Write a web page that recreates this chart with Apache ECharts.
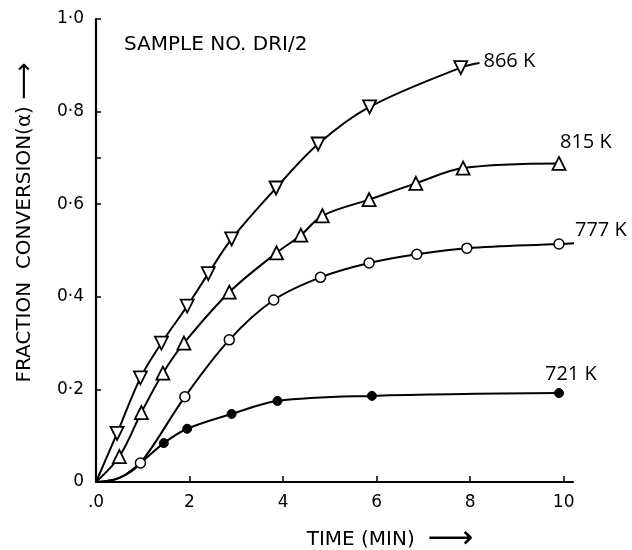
<!DOCTYPE html>
<html>
<head>
<meta charset="utf-8">
<script src="https://cdn.jsdelivr.net/npm/echarts@6/dist/echarts.min.js"></script>
<style>html,body{margin:0;padding:0;background:#fff}#c{width:632px;height:550px}</style>
</head>
<body>
<div id="c"></div>
<script>
// Data (time in min, fraction conversion alpha)
var t866 = [0, 0.45, 0.95, 1.4, 1.95, 2.4, 2.9, 3.85, 4.75, 5.85, 7.8, 8.2];
var a866 = [0, 0.105, 0.225, 0.30, 0.38, 0.45, 0.525, 0.635, 0.73, 0.81, 0.895, 0.905];
var t815 = [0, 0.5, 0.97, 1.43, 1.88, 2.85, 3.86, 4.38, 4.84, 5.84, 6.84, 7.85, 9.9];
var a815 = [0, 0.055, 0.15, 0.235, 0.30, 0.41, 0.495, 0.533, 0.575, 0.61, 0.645, 0.678, 0.688];
var t777 = [0, 0.5, 0.95, 1.9, 2.85, 3.8, 4.8, 5.84, 6.86, 7.93, 9.9, 10.3];
var a777 = [0, 0.009, 0.041, 0.184, 0.307, 0.393, 0.442, 0.473, 0.492, 0.505, 0.514, 0.516];
var t721 = [0, 0.5, 0.95, 1.45, 1.95, 2.9, 3.88, 5.9, 9.9];
var a721 = [0, 0.009, 0.041, 0.084, 0.115, 0.147, 0.175, 0.186, 0.192];
// which points are plotted as markers (others are curve-only)
var m866 = [0,1,1,1,1,1,1,1,1,1,1,0];
var m815 = [0,1,1,1,1,1,1,1,1,1,1,1,1];
var m777 = [0,0,1,1,1,1,1,1,1,1,1,0];
var m721 = [0,0,0,1,1,1,1,1,1];
var seriesNames = ['866 K', '815 K', '777 K', '721 K'];
var xTicks = [0, 2, 4, 6, 8, 10];
var yTicks = [0, 0.2, 0.4, 0.6, 0.8, 1.0];
var yTickMarks = [0.2, 0.4, 0.6, 0.7, 0.8, 1.0];
var titleText = 'SAMPLE NO. DRI/2';

var FONT = 'Open Sans';
var FONT2 = 'DejaVu Sans';
function build(t, a, m) {
  return t.map(function (x, i) {
    var d = { value: [x, a[i]] };
    if (!m[i]) d.symbol = 'none';
    return d;
  });
}
function endLbl(name, offset) {
  return { show: true, formatter: name, offset: offset, distance: 0,
    color: '#000', fontFamily: FONT, fontSize: 20 };
}
var common = { type: 'line', smooth: 0.35,
  lineStyle: { color: '#000', width: 2 }, z: 2 };

var chart = echarts.init(document.getElementById('c'));
chart.setOption({
  animation: false,
  backgroundColor: '#fff',
  title: { text: titleText, left: 119, top: 30,
    textStyle: { fontFamily: FONT2, fontWeight: 'normal', fontSize: 20, color: '#000' } },
  grid: { left: 96, right: 59, top: 19, bottom: 68, outerBoundsMode: 'none', containLabel: false },
  xAxis: {
    type: 'value', min: 0, max: 10.2,
    name: 'TIME (MIN)  {ar|⟶}', nameLocation: 'middle', nameGap: 42,
    nameTextStyle: { fontFamily: FONT2, fontSize: 20, color: '#000', padding: [0, 0, 0, 111],
      rich: { ar: { fontFamily: FONT2, fontSize: 32, color: '#000' } } },
    axisLine: { show: true, lineStyle: { color: '#000', width: 2.2 } },
    axisTick: { show: true, inside: true, length: 6, customValues: xTicks, lineStyle: { color: '#000', width: 1.5 } },
    axisLabel: { customValues: xTicks, margin: 12, color: '#000', fontFamily: FONT2, fontSize: 17,
      formatter: function (v) { return v === 0 ? '.0' : String(v); } },
    splitLine: { show: false }
  },
  yAxis: {
    type: 'value', min: 0, max: 1.0,
    name: 'FRACTION  CONVERSION(α) {ar|⟶}', nameLocation: 'middle', nameGap: 58, nameRotate: 90,
    nameTextStyle: { fontFamily: FONT2, fontSize: 20, color: '#000', padding: [0, 0, 0, 56],
      rich: { ar: { fontFamily: FONT2, fontSize: 26, color: '#000' } } },
    axisLine: { show: true, lineStyle: { color: '#000', width: 2.2 } },
    axisTick: { show: true, inside: true, length: 5, customValues: yTickMarks, lineStyle: { color: '#000', width: 1.5 } },
    axisLabel: { customValues: yTicks, margin: 12, color: '#000', fontFamily: FONT2, fontSize: 17,
      formatter: function (v) { return v === 0 ? '0' : v.toFixed(1).replace('.', '·'); } },
    splitLine: { show: false }
  },
  series: [
    Object.assign({}, common, { name: seriesNames[0], symbol: 'triangle', symbolRotate: 180, symbolSize: 13,
      itemStyle: { color: '#fff', borderColor: '#000', borderWidth: 1.8 },
      endLabel: endLbl(seriesNames[0], [4, -2]),
      data: build(t866, a866, m866) }),
    Object.assign({}, common, { name: seriesNames[1], symbol: 'triangle', symbolSize: 13,
      itemStyle: { color: '#fff', borderColor: '#000', borderWidth: 1.8 },
      endLabel: endLbl(seriesNames[1], [1, -21]),
      data: build(t815, a815, m815) }),
    Object.assign({}, common, { name: seriesNames[2], symbol: 'circle', symbolSize: 10,
      itemStyle: { color: '#fff', borderColor: '#000', borderWidth: 1.5 },
      endLabel: endLbl(seriesNames[2], [1, -13]),
      data: build(t777, a777, m777) }),
    Object.assign({}, common, { name: seriesNames[3], symbol: 'circle', symbolSize: 9,
      itemStyle: { color: '#000', borderColor: '#000', borderWidth: 1 },
      endLabel: endLbl(seriesNames[3], [-14, -19]),
      data: build(t721, a721, m721) })
  ]
});
</script>
</body>
</html>
